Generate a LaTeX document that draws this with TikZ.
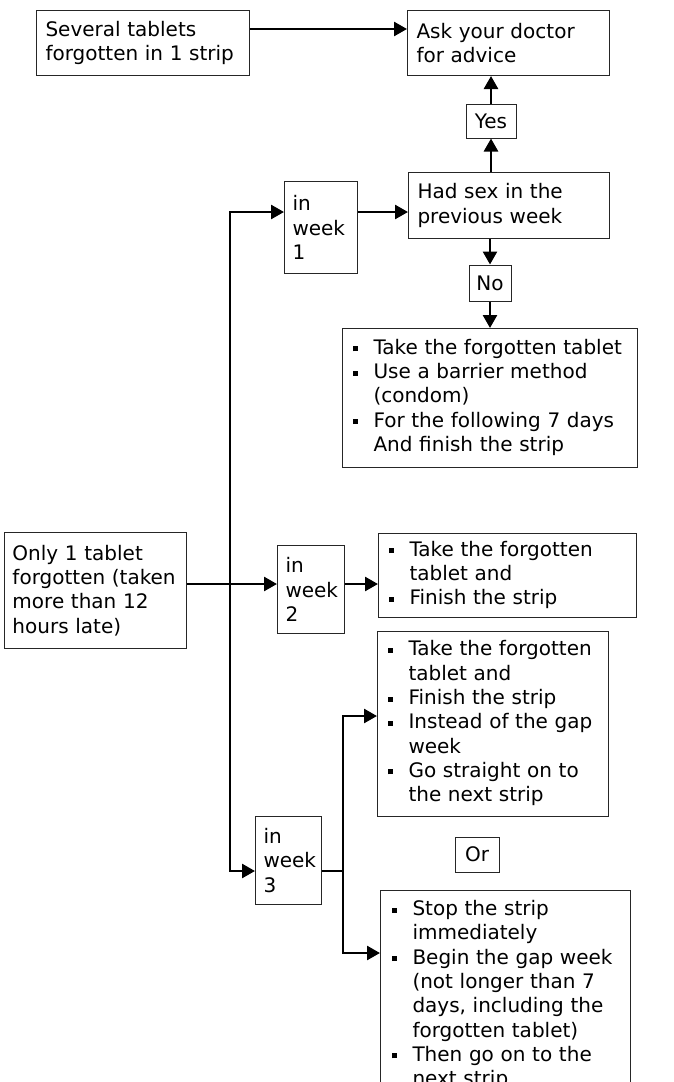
\documentclass[tikz,border=0pt]{standalone}
\usepackage{fontspec}
\setmainfont{DejaVu Sans}
\usetikzlibrary{arrows.meta}
\newcommand{\blob}{\rule[3pt]{5pt}{5pt}}
\newcommand{\pts}[1]{\begin{tabular}{@{}l@{\hspace{16pt}}l@{}}#1\end{tabular}}

\begin{document}
\begin{tikzpicture}[x=1pt,y=-1pt,
    box/.style={draw=black!85,line width=1pt,anchor=north west,align=left,
        inner xsep=9pt,inner ysep=0pt,font=\fontsize{20}{24.3}\selectfont},
    tag/.style={draw=black!85,line width=1pt,inner sep=0pt,
        font=\fontsize{20}{24.3}\selectfont},
    wire/.style={line width=2.6pt},
    link/.style={line width=2.6pt,-{Triangle[length=13pt,width=14pt]}}
]
    \useasboundingbox (0,0) rectangle (674,1082);
    \fill[white] (0,0) rectangle (674,1082);
    \clip (0,0) rectangle (674,1082);

    \node[box,text width=195pt,minimum height=65pt] (several) at (36,10) {Several tablets\\forgotten in 1 strip};
    \node[box,text width=184pt,minimum height=65pt] (doctor) at (407,10) {Ask your doctor\\for advice};
    \node[tag,minimum width=50pt,minimum height=34pt] (yes) at (491,121) {Yes};
    \node[box,text width=183pt,minimum height=66pt] (hadsex) at (408,172) {Had sex in the\\previous week};
    \node[box,inner xsep=8pt,text width=57pt,minimum height=92pt] (week1) at (284,181) {in\\week\\1};
    \node[tag,minimum width=42pt,minimum height=36pt] (no) at (490,283) {No};
    \node[box,inner xsep=10pt,text width=275pt,minimum height=139pt] (advice1) at (342,328) {\pts{%
        \blob & Take the forgotten tablet\\
        \blob & Use a barrier method\\
              & (condom)\\
        \blob & For the following 7 days\\
              & And finish the strip}};

    \node[box,inner xsep=8pt,text width=166pt,minimum height=116pt] (only) at (4,532) {Only 1 tablet\\forgotten (taken\\more than 12\\hours late)};
    \node[box,inner xsep=8pt,text width=51pt,minimum height=88pt] (week2) at (277,545) {in\\week\\2};
    \node[box,inner xsep=10pt,text width=238pt,minimum height=84pt] (advice2) at (378,533) {\pts{%
        \blob & Take the forgotten\\
              & tablet and\\
        \blob & Finish the strip}};

    \node[box,inner xsep=10pt,text width=211pt,minimum height=185pt] (advice3) at (377,631) {\pts{%
        \blob & Take the forgotten\\
              & tablet and\\
        \blob & Finish the strip\\
        \blob & Instead of the gap\\
              & week\\
        \blob & Go straight on to\\
              & the next strip}};
    \node[tag,minimum width=44pt,minimum height=35pt] (or) at (477,854.5) {Or};
    \node[box,inner xsep=8pt,text width=50pt,minimum height=88pt] (week3) at (255,816) {in\\week\\3};
    \node[box,inner xsep=11pt,inner ysep=8pt,text width=228pt] (advice4) at (380,890) {\pts{%
        \blob & Stop the strip\\
              & immediately\\
        \blob & Begin the gap week\\
              & (not longer than 7\\
              & days, including the\\
              & forgotten tablet)\\
        \blob & Then go on to the\\
              & next strip}};

    \coordinate (trunk1) at (230,212);
    \coordinate (fork) at (230,584);
    \coordinate (trunk3) at (230,871);
    \coordinate (branch) at (343,871);
    \coordinate (up) at (343,716);
    \coordinate (down) at (343,953);

    \draw[link] ([yshift=-19pt]several.north east) -- ([yshift=-19pt]doctor.north west);
    \draw[link] (yes.south |- hadsex.north) -- (yes.south);
    \draw[link] (yes.north) -- (yes.north |- doctor.south);
    \draw[link] (no.north |- hadsex.south) -- (no.north);
    \draw[link] (no.south) -- (no.south |- advice1.north);
    \draw[link] (trunk3) -- (trunk1) -- (trunk1 -| week1.west);
    \draw[link] (trunk1) -- (trunk3) -- (trunk3 -| week3.west);
    \draw[link] (trunk1 -| week1.east) -- (trunk1 -| hadsex.west);
    \draw[link] (only.east |- fork) -- (fork -| week2.west);
    \draw[link] (fork -| week2.east) -- (fork -| advice2.west);
    \draw[wire] (trunk3 -| week3.east) -- (branch);
    \draw[link] (branch) -- (up) -- (up -| advice3.west);
    \draw[link] (branch) -- (down) -- (down -| advice4.west);
\end{tikzpicture}
\end{document}
